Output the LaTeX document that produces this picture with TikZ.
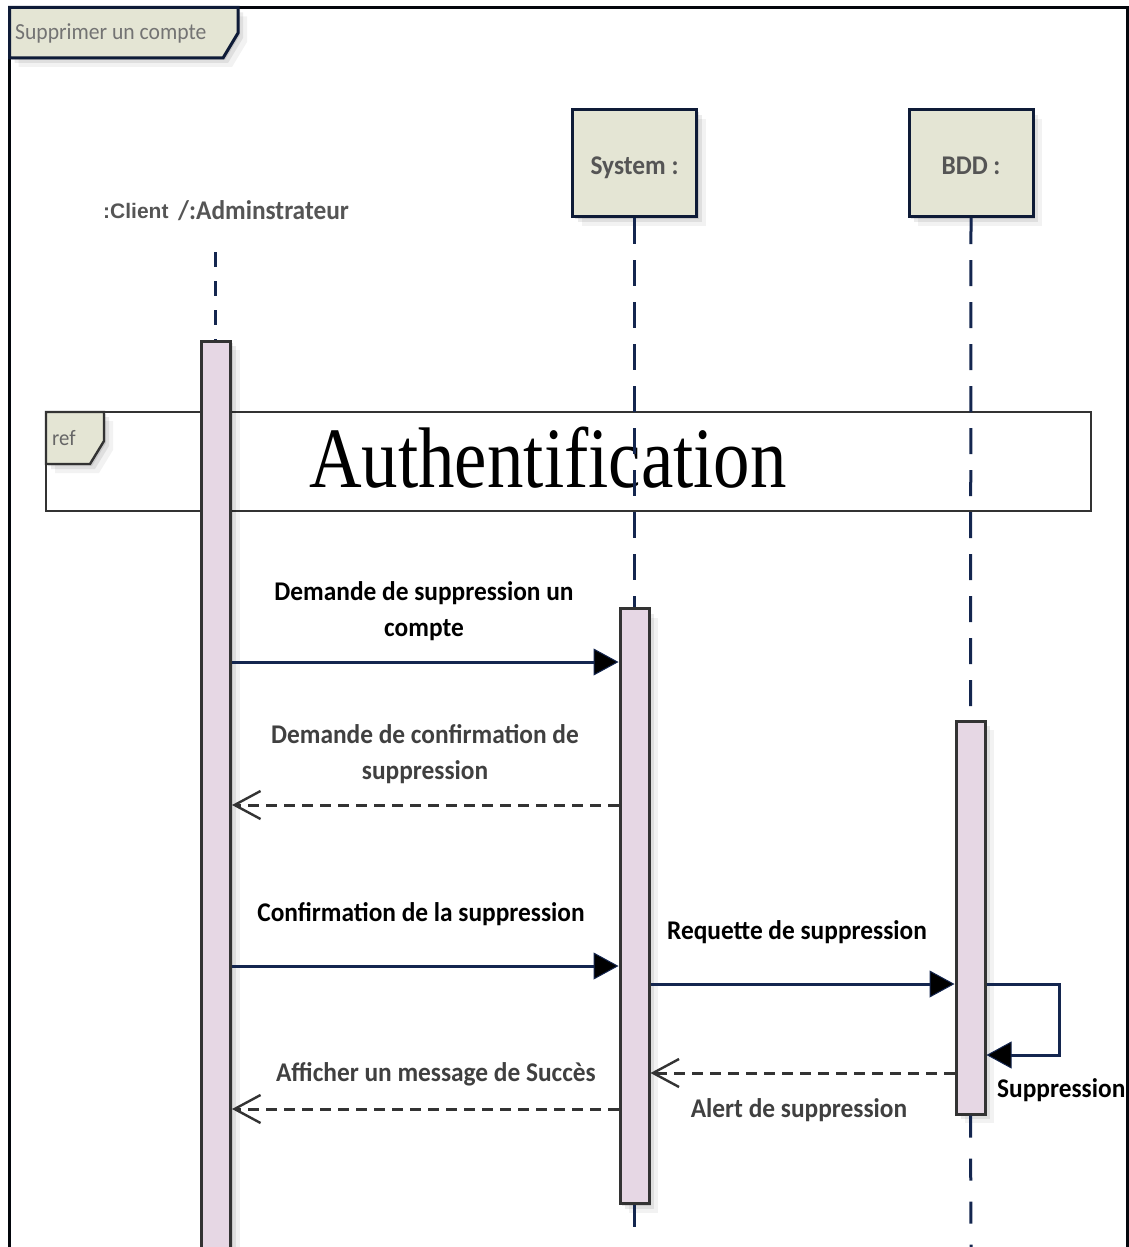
\documentclass[tikz,border=0pt]{standalone}
\usepackage{fontspec}
\setmainfont[FakeStretch=0.94]{Carlito}
\newfontfamily\lib{Liberation Sans}
\newfontfamily\serifA[FakeStretch=0.847]{Liberation Serif}
\usetikzlibrary{arrows.meta,shadows,calc}
\definecolor{navy}{HTML}{14264F}
\definecolor{boxfill}{HTML}{E4E5D4}
\definecolor{actfill}{HTML}{E6D7E4}
\definecolor{framec}{HTML}{333333}
\definecolor{greytx}{HTML}{555555}
\tikzset{
  softshadow/.style={
    drop shadow={shadow xshift=2pt,shadow yshift=-2pt,opacity=.10,fill=black},
    drop shadow={shadow xshift=5pt,shadow yshift=-5pt,opacity=.08,fill=black},
    drop shadow={shadow xshift=9pt,shadow yshift=-9pt,opacity=.05,fill=black}},
  lifebox/.style={draw=navy!70!black,line width=3pt,fill=boxfill,minimum width=124pt,minimum height=107pt,inner sep=0pt,softshadow,text=greytx,font=\fontsize{27}{32}\selectfont\bfseries,text height=22pt,text depth=0pt},
  activ/.style={draw=framec,line width=3pt,fill=actfill,minimum width=29pt,inner sep=0pt,softshadow},
  lifeline/.style={draw=navy,line width=3pt},
  msg/.style={draw=navy,line width=3pt,-{Triangle[length=25pt,width=27pt,fill=black,line width=1pt]}},
  reply/.style={draw=framec,line width=3pt,dash pattern=on 11pt off 7pt,-{Straight Barb[length=26pt,width=28pt,line width=2.4pt]}},
  lbl/.style={align=center,inner sep=0pt,font=\fontsize{27}{36}\selectfont\bfseries,text=black},
  lblg/.style={lbl,text=black!75},
  tagshape/.style={draw=navy!70!black,line width=3pt,fill=boxfill,softshadow},
}
\begin{document}
\begin{tikzpicture}[x=1pt,y=-1pt]
\useasboundingbox (0,0) rectangle (1129,1247);
\clip (0,0) rectangle (1129,1247);
% outer frame
\draw[draw=black!85!navy,line width=3pt] (9.5,1260) -- (9.5,7.5) -- (1127,7.5) -- (1127,1260);
% diagram title tag
\draw[tagshape] (9.5,7.5) -- (238,7.5) -- (238,33) -- (223,58) -- (9.5,58) -- cycle;
\node[anchor=west,inner sep=0pt,text=black!55,font=\fontsize{23}{28}\selectfont] (title) at (15,33) {Supprimer un compte};
% ref frame
\node[draw=framec,line width=2.8pt,minimum width=1045pt,minimum height=99pt,inner sep=0pt] (ref) at (568.5,461.5) {};
\draw[draw=framec,line width=2.4pt,fill=boxfill,softshadow] (46,412) -- (104,412) -- (104,441) -- (90,464) -- (46,464) -- cycle;
\node[anchor=west,inner sep=0pt,text=black!60,font=\fontsize{22}{26}\selectfont] (reft) at (52,438) {ref};
\node[inner sep=0pt,text=black,font=\serifA\fontsize{86}{90}\selectfont] (auth) at (548,458) {Authentification};
% participants
\node[inner sep=0pt,anchor=west,text=greytx,font=\lib\bfseries\fontsize{21}{24}\selectfont] (clA) at (103,211) {:Client};
\node[inner sep=0pt,anchor=west,text=greytx,font=\fontsize{27}{30}\selectfont\bfseries] (clB) at (178,211) {/:Adminstrateur};
\coordinate (clTop) at (215.5,252);
\node[lifebox] (sys) at (634.5,163) {System :};
\node[lifebox] (bdd) at (971,163) {BDD :};
% activation bars
\node[activ,minimum height=925pt] (ca) at (216,803.5) {};
\coordinate (caT) at (ca.north);
\draw[lifeline,dash pattern=on 15pt off 14pt] (clTop) -- (clTop |- caT);
\coordinate (sysEnd) at (634.5,1247);
\coordinate (bddEnd) at (971,1247);
\node[activ,minimum height=595pt] (sa) at (634.5,906) {};
\node[activ,minimum height=393pt] (ba) at (970.5,917.5) {};
\draw[lifeline,dash pattern=on 26pt off 16pt] (sys.south) -- (sa.north);
\draw[lifeline,dash pattern=on 26pt off 16pt] (bdd.south) -- (ba.north);
\draw[lifeline,dash pattern=on 22pt off 21pt] (sa.south) -- (sysEnd);
\draw[lifeline,dash pattern=on 22pt off 21pt] (ba.south) -- (bddEnd);
% message rows
\coordinate (r1) at (0,662);
\coordinate (r2) at (0,805);
\coordinate (r3) at (0,966);
\coordinate (r4) at (0,984);
\coordinate (r5) at (0,1055);
\coordinate (r6) at (0,1073);
\coordinate (r7) at (0,1109);
\coordinate (loopR) at (1059,0);
\draw[msg] (ca.east |- r1) -- (sa.west |- r1);
\draw[reply] (sa.west |- r2) -- (ca.east |- r2);
\draw[msg] (ca.east |- r3) -- (sa.west |- r3);
\draw[msg] (sa.east |- r4) -- (ba.west |- r4);
\draw[msg] (ba.east |- r4) -- (loopR |- r4) -- (loopR |- r5) -- (ba.east |- r5);
\draw[reply] (ba.west |- r6) -- (sa.east |- r6);
\draw[reply] (sa.west |- r7) -- (ca.east |- r7);
% labels
\node[lbl] (l1) at (424,611) {Demande de suppression un\\compte};
\node[lblg] (l2) at (425,754) {Demande de confirmation de\\suppression};
\node[lbl] (l3) at (421,914) {Confirmation de la suppression};
\node[lbl] (l4) at (797,932) {Requette de suppression};
\node[lblg] (l5) at (436,1074) {Afficher un message de Succès};
\node[lblg] (l6) at (799,1110) {Alert de suppression};
\node[lbl,anchor=west] (l7) at (997,1090) {Suppression};
\end{tikzpicture}
\end{document}
